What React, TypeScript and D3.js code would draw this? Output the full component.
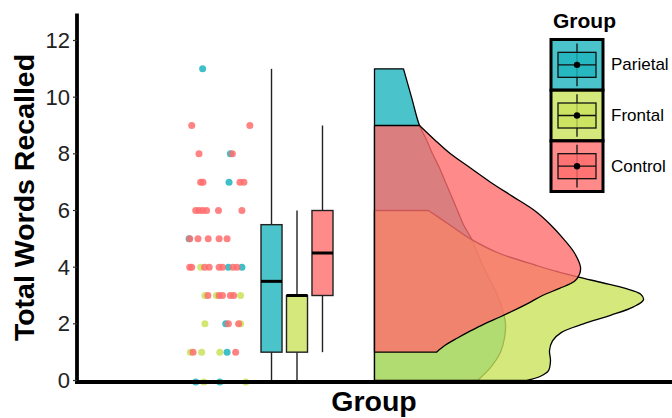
import React from "react";
import * as d3 from "d3";

// ---------- data ----------
const groups = ["Parietal", "Frontal", "Control"];
const groupColors = ["#1DB4BD", "#C9E25B", "#FF6D6D"];

// box-plot statistics
const boxMin = [0, 0, 1];
const boxQ1 = [1, 1, 3];
const boxMedian = [3.5, 3, 4.5];
const boxQ3 = [5.5, 3, 6];
const boxMax = [11, 6, 9];

const yTicks = [0, 2, 4, 6, 8, 10, 12];

// raw points (value, horizontal jitter in [-1, 1])
const parietalValues = [11, 8, 7, 5, 4, 4, 2, 1, 0, 0];
const parietalJitter = [-0.52, 0.32, 0.28, -0.93, 0.26, 0.67, 0.18, 0.22, -0.73, 0.0];

const frontalValues = [4, 3, 3, 3, 2, 2, 1, 1, 1, 0, 0];
const frontalJitter = [-0.58, -0.45, -0.1, 0.63, -0.45, 0.63, -0.89, -0.55, 0.0, -0.48, 0.79];

const controlValues = [
  9, 9, 8, 8, 7, 7, 7, 7, 6, 6, 6, 6, 6, 6, 5, 5, 5, 5, 5, 4, 4, 4, 4, 4, 4, 4, 4,
  3, 3, 3, 3, 3, 2, 2, 1, 1,
];
const controlJitter = [
  -0.85, 0.91, -0.63, 0.38, -0.58, -0.51, 0.61, 0.73, -0.73, -0.63, -0.52, -0.4, -0.04, 0.67,
  -0.91, -0.66, -0.35, -0.02, 0.22, -0.91, -0.85, -0.46, -0.32, -0.02, 0.08, 0.4, 0.52,
  -0.36, -0.02, 0.08, 0.32, 0.42, 0.26, 0.57, -0.81, 0.48,
];

// half-violin density outlines (value, density)
const parietalDensValue = [0, 0.5, 1, 1.5, 2, 2.5, 3, 3.5, 4, 4.5, 5, 5.5, 6, 6.5, 7, 7.5, 8, 8.5, 9, 10, 11];
const parietalDensity = [
  0.103, 0.117, 0.126, 0.13, 0.131, 0.128, 0.123, 0.116, 0.109, 0.103, 0.097, 0.089, 0.083,
  0.077, 0.071, 0.065, 0.058, 0.052, 0.045, 0.037, 0.029,
];

const frontalDensValue = [
  0, 0.15, 0.35, 0.7, 1.05, 1.4, 1.7, 2.0, 2.3, 2.6, 2.85, 3.05, 3.25, 3.45, 3.65, 3.85, 4.05, 4.5, 5.0, 5.5, 6.0,
];
const frontalDensity = [
  0.152, 0.166, 0.174, 0.176, 0.175, 0.178, 0.187, 0.209, 0.236, 0.259, 0.269, 0.266, 0.251,
  0.228, 0.204, 0.182, 0.163, 0.124, 0.096, 0.075, 0.054,
];

const controlDensValue = [
  1, 1.25, 1.5, 1.75, 2, 2.25, 2.5, 2.75, 3, 3.25, 3.5, 3.75, 4, 4.5, 5, 5.5, 6, 6.5, 7, 7.5, 8, 8.5, 9,
];
const controlDensity = [
  0.062, 0.071, 0.083, 0.096, 0.11, 0.126, 0.141, 0.155, 0.168, 0.185, 0.2, 0.205, 0.206, 0.2,
  0.189, 0.176, 0.16, 0.138, 0.116, 0.096, 0.076, 0.06, 0.045,
];

// ---------- layout ----------
const W = 672;
const H = 418;
const FONT = "'Liberation Sans', Arial, Helvetica, sans-serif";

const x = d3.scaleLinear().domain([0.4, 1.6]).range([77, 672]);
const y = d3.scaleLinear().domain([0, 12]).range([380.5, 40.5]);
const dens = d3.scaleLinear().domain([0, 0.3]).range([0, 300]);

const CAT = 1;
const dotCenter = 0.688;
const dotHalf = 0.0666;
const boxCenter = 0.8437;
const boxDodge = 0.0514;
const boxHalfW = 0.0212;
const ALPHA = 0.8;

export default function App() {
  React.useEffect(() => {
    document.body.style.margin = "0";
  }, []);

  const densSets = [
    { v: parietalDensValue, d: parietalDensity },
    { v: frontalDensValue, d: frontalDensity },
    { v: controlDensValue, d: controlDensity },
  ];
  const area = d3
    .area<[number, number]>()
    .y((p) => y(p[0]))
    .x0(() => x(CAT))
    .x1((p) => x(CAT) + dens(p[1]))
    .curve(d3.curveCatmullRom.alpha(0.5));

  const pointSets = [
    { g: 1, v: frontalValues, j: frontalJitter },
    { g: 0, v: parietalValues, j: parietalJitter },
    { g: 2, v: controlValues, j: controlJitter },
  ];

  const x0 = x.range()[0];
  const yTop = y(12.95);

  const keyTop = 39.5;
  const keyH = 50.67;
  const keyX = 551;
  const keyW = 52;

  return (
    <svg width={W} height={H} style={{ position: "absolute", left: 0, top: 0, background: "#fff" }}>
      {/* densities */}
      {densSets.map((s, i) => (
        <path
          key={"d" + i}
          d={area(s.v.map((v, k) => [v, s.d[k]] as [number, number])) || ""}
          fill={groupColors[i]}
          fillOpacity={ALPHA}
          stroke="#000"
          strokeWidth={1.3}
          strokeLinejoin="round"
        />
      ))}

      {/* points */}
      {pointSets.map((s) =>
        s.v.map((v, k) => (
          <circle
            key={"p" + s.g + "-" + k}
            cx={x(dotCenter + s.j[k] * dotHalf)}
            cy={y(v) + (v === 0 ? 1.5 : 0)}
            r={3.5}
            fill={groupColors[s.g]}
            fillOpacity={0.85}
          />
        ))
      )}

      {/* box plots */}
      {groups.map((g, i) => {
        const cx = x(boxCenter + (i - 1) * boxDodge);
        const bl = x(boxCenter + (i - 1) * boxDodge - boxHalfW);
        const br = x(boxCenter + (i - 1) * boxDodge + boxHalfW);
        return (
          <g key={"b" + g}>
            <line x1={cx} x2={cx} y1={y(boxMax[i])} y2={y(boxQ3[i])} stroke="#222" strokeWidth={1.4} />
            <line x1={cx} x2={cx} y1={y(boxQ1[i])} y2={y(boxMin[i])} stroke="#222" strokeWidth={1.4} />
            <rect
              x={bl}
              y={y(boxQ3[i])}
              width={br - bl}
              height={y(boxQ1[i]) - y(boxQ3[i])}
              fill={groupColors[i]}
              fillOpacity={ALPHA}
              stroke="#222"
              strokeWidth={1.4}
            />
            <line x1={bl} x2={br} y1={y(boxMedian[i])} y2={y(boxMedian[i])} stroke="#000" strokeWidth={3} />
          </g>
        );
      })}

      {/* axes */}
      <line x1={x0} x2={x0} y1={yTop} y2={384} stroke="#000" strokeWidth={3.8} />
      <line x1={x0 - 1.9} x2={W} y1={382} y2={382} stroke="#000" strokeWidth={3.8} />
      {yTicks.map((t) => (
        <g key={"t" + t}>
          <line x1={x0 - 4} x2={x0} y1={y(t)} y2={y(t)} stroke="#333" strokeWidth={1.2} />
          <text
            x={70}
            y={y(t)}
            textAnchor="end"
            dominantBaseline="central"
            fontFamily={FONT}
            fontSize={22}
            fill="#222"
          >
            {t}
          </text>
        </g>
      ))}
      <text
        transform={`translate(33.5, 197.5) rotate(-90)`}
        textAnchor="middle"
        fontFamily={FONT}
        fontWeight="bold"
        fontSize={28.5}
        fill="#000"
      >
        Total Words Recalled
      </text>
      <text x={374} y={411} textAnchor="middle" fontFamily={FONT} fontWeight="bold" fontSize={28.5} fill="#000">
        Group
      </text>

      {/* legend */}
      <text x={553} y={28} fontFamily={FONT} fontWeight="bold" fontSize={21} fill="#000">
        Group
      </text>
      {groups.map((g, i) => {
        const top = keyTop + i * keyH;
        const cy = top + keyH / 2;
        const cx = keyX + keyW / 2;
        return (
          <g key={"l" + g}>
            <rect
              x={keyX}
              y={top}
              width={keyW}
              height={keyH}
              fill={groupColors[i]}
              fillOpacity={ALPHA}
              stroke="#000"
              strokeWidth={3}
            />
            <line x1={cx} x2={cx} y1={top + 4} y2={top + keyH - 4} stroke="#111" strokeWidth={1.3} />
            <rect
              x={keyX + 7}
              y={cy - 12.5}
              width={keyW - 14}
              height={25}
              fill={groupColors[i]}
              fillOpacity={ALPHA}
              stroke="#111"
              strokeWidth={1.3}
            />
            <line x1={keyX + 7} x2={keyX + keyW - 7} y1={cy} y2={cy} stroke="#111" strokeWidth={1.3} />
            <circle cx={cx} cy={cy} r={3.2} fill="#000" />
            <text x={611} y={cy} dominantBaseline="central" fontFamily={FONT} fontSize={17} fill="#000">
              {g}
            </text>
          </g>
        );
      })}
    </svg>
  );
}
